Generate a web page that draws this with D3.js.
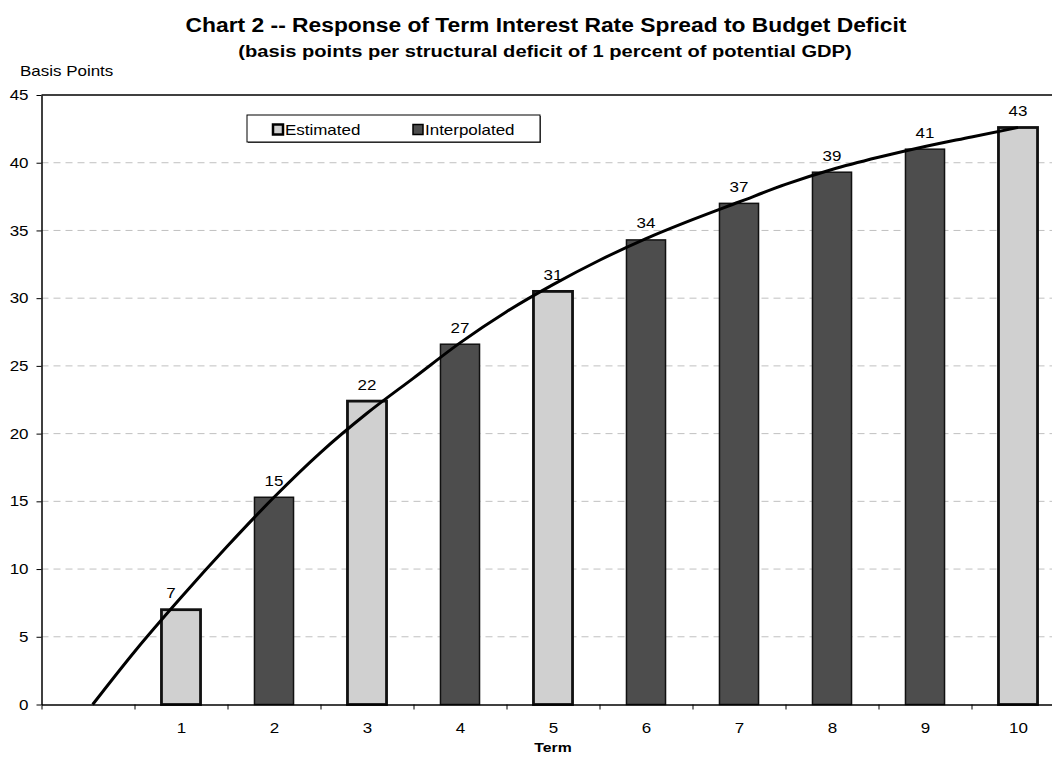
<!DOCTYPE html>
<html>
<head>
<meta charset="utf-8">
<script src="https://cdn.jsdelivr.net/npm/d3@7"></script>
<style>
  body { margin: 0; background: #fff; }
  svg { display: block; font-family: "Liberation Sans", Arial, sans-serif; }
</style>
</head>
<body>
<svg id="chart" width="1052" height="757"></svg>
<script>
// Data
const terms = [1, 2, 3, 4, 5, 6, 7, 8, 9, 10];
const spreads = [7.0, 15.3, 22.4, 26.6, 30.5, 34.3, 37.0, 39.3, 41.0, 42.6];
const kinds = ["Estimated", "Interpolated", "Estimated", "Interpolated", "Estimated",
               "Interpolated", "Interpolated", "Interpolated", "Interpolated", "Estimated"];
const barLabels = ["7", "15", "22", "27", "31", "34", "37", "39", "41", "43"];
const yTicks = [0, 5, 10, 15, 20, 25, 30, 35, 40, 45];
// trend curve, term position vs basis points
const curveTerm = [0.05, 0.5, 1, 1.5, 2, 2.5, 3, 3.5, 4, 4.5, 5, 5.5, 6, 6.5, 7, 7.5, 8, 8.5, 9, 9.5, 10];
const curveBp = [0, 3.9, 7.9, 11.7, 15.3, 18.6, 21.5, 24.1, 26.7, 29.0, 31.0, 32.8, 34.4, 35.8, 37.1, 38.4, 39.5, 40.4, 41.2, 41.9, 42.6];

const svg = d3.select("#chart");
const plotLeft = 41.5, plotRight = 1064.5, plotTop = 95, plotBottom = 704.5;
const FONT = "Liberation Sans, Arial, sans-serif";
const STRETCH = 1.17; // the original text is a bit wider than Arial

// widen text horizontally around its own anchor
function stretch(sel) {
  sel.each(function() {
    const t = d3.select(this);
    const ax = +t.attr("x") || 0;
    t.attr("transform", `translate(${ax},0) scale(${STRETCH},1) translate(${-ax},0)`);
  });
}

// Position 0 is an empty slot, categories 1..10 after it
const x = d3.scaleLinear().domain([-0.5, 10.5]).range([plotLeft, plotRight]);
const y = d3.scaleLinear().domain([0, 45]).range([plotBottom, plotTop]);
const step = x(1) - x(0);
const barW = step * 0.42;

const fills = { Estimated: "#d0d0d0", Interpolated: "#4d4d4d" };

// Gridlines
svg.append("g")
  .selectAll("line")
  .data(yTicks.filter(d => d > 0 && d < 45))
  .join("line")
  .attr("x1", plotLeft).attr("x2", plotRight)
  .attr("y1", d => y(d)).attr("y2", d => y(d))
  .attr("stroke", "#c0c0c0")
  .attr("stroke-width", 1)
  .attr("stroke-dasharray", "7,5");

// Top frame line
svg.append("line")
  .attr("x1", plotLeft).attr("x2", plotRight)
  .attr("y1", plotTop).attr("y2", plotTop)
  .attr("stroke", "#000").attr("stroke-width", 1.5);

// Bars
const data = terms.map((t, i) => ({ t, v: spreads[i], kind: kinds[i], label: barLabels[i] }));

svg.append("g")
  .selectAll("rect")
  .data(data)
  .join("rect")
  .attr("x", d => x(d.t) - barW / 2)
  .attr("y", d => y(d.v))
  .attr("width", barW)
  .attr("height", d => y(0) - y(d.v))
  .attr("fill", d => fills[d.kind])
  .attr("stroke", "#111")
  .attr("stroke-width", d => d.kind === "Estimated" ? 2.8 : 1.5);

// Y axis
const yAxis = svg.append("g")
  .attr("transform", `translate(${plotLeft},0)`)
  .call(d3.axisLeft(y).tickValues(yTicks).tickSize(5).tickSizeOuter(0).tickPadding(8));
yAxis.select(".domain").attr("stroke", "#000").attr("stroke-width", 1.5);
yAxis.selectAll(".tick line").attr("stroke", "#000");
yAxis.selectAll(".tick text")
  .attr("font-size", 14.5)
  .attr("font-family", FONT)
  .attr("fill", "#000")
  .call(stretch);

// X axis: ticks between categories, labels at centers
const boundaries = d3.range(-0.5, 11, 1);
const xAxis = svg.append("g")
  .attr("transform", `translate(0,${plotBottom})`)
  .call(d3.axisBottom(x).tickValues(boundaries).tickSize(5).tickSizeOuter(0).tickFormat(""));
xAxis.select(".domain").attr("stroke", "#000").attr("stroke-width", 1.5);
xAxis.selectAll(".tick line").attr("stroke", "#000");

const xLabels = svg.append("g")
  .attr("transform", `translate(0,${plotBottom})`)
  .call(d3.axisBottom(x).tickValues(terms).tickSize(0).tickPadding(18).tickFormat(d3.format("d")));
xLabels.select(".domain").remove();
xLabels.selectAll(".tick text")
  .attr("font-size", 14.5)
  .attr("font-family", FONT)
  .attr("fill", "#000")
  .call(stretch);

// Trend curve
const curvePts = curveTerm.map((t, i) => [t, curveBp[i]]);
svg.append("path")
  .datum(curvePts)
  .attr("fill", "none")
  .attr("stroke", "#000")
  .attr("stroke-width", 3)
  .attr("d", d3.line().x(d => x(d[0])).y(d => y(d[1])).curve(d3.curveMonotoneX));

// Bar value labels (the first one sits a little left in the original)
svg.append("g")
  .selectAll("text")
  .data(data)
  .join("text")
  .attr("x", (d, i) => x(d.t) - (i === 0 ? 10 : 0))
  .attr("y", d => y(d.v) - 11.5)
  .attr("text-anchor", "middle")
  .attr("font-size", 14.5)
  .attr("fill", "#000")
  .text(d => d.label)
  .call(stretch);

// Legend
const legend = svg.append("g");
legend.append("rect")
  .attr("x", 248).attr("y", 116).attr("width", 293).attr("height", 27)
  .attr("fill", "#555");
legend.append("rect")
  .attr("x", 247).attr("y", 115).attr("width", 293).attr("height", 27)
  .attr("fill", "#fff").attr("stroke", "#000").attr("stroke-width", 1);

const legendItems = [
  { name: "Estimated", x: 273 },
  { name: "Interpolated", x: 413 }
];
legendItems.forEach(item => {
  legend.append("rect")
    .attr("x", item.x).attr("y", 124.5).attr("width", 10).attr("height", 10)
    .attr("fill", fills[item.name])
    .attr("stroke", "#000")
    .attr("stroke-width", item.name === "Estimated" ? 2.5 : 1.5);
  legend.append("text")
    .attr("x", item.x + 12).attr("y", 135)
    .attr("font-size", 14.5)
    .attr("fill", "#000")
    .text(item.name)
    .call(stretch);
});

// Titles
svg.append("text")
  .attr("x", 546).attr("y", 32)
  .attr("text-anchor", "middle")
  .attr("font-size", 19.5)
  .attr("font-weight", "bold")
  .text("Chart 2 -- Response of Term Interest Rate Spread to Budget Deficit")
  .call(stretch);

svg.append("text")
  .attr("x", 545).attr("y", 57.5)
  .attr("text-anchor", "middle")
  .attr("font-size", 17.2)
  .attr("font-weight", "bold")
  .text("(basis points per structural deficit of 1 percent of potential GDP)")
  .call(stretch);

svg.append("text")
  .attr("x", 20).attr("y", 76)
  .attr("font-size", 14.5)
  .text("Basis Points")
  .call(stretch);

svg.append("text")
  .attr("x", 553).attr("y", 752)
  .attr("text-anchor", "middle")
  .attr("font-size", 13.5)
  .attr("font-weight", "bold")
  .text("Term")
  .call(stretch);
</script>
</body>
</html>
